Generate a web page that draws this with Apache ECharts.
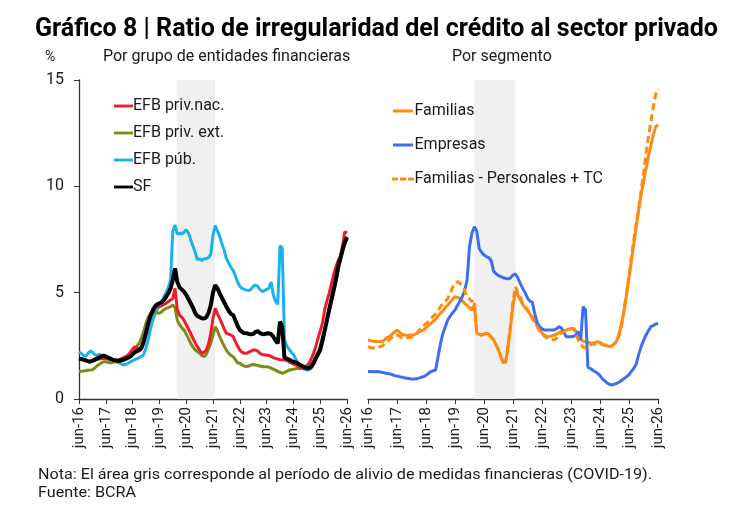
<!DOCTYPE html>
<html>
<head>
<meta charset="utf-8">
<script src="https://cdn.jsdelivr.net/npm/echarts@6/dist/echarts.min.js"></script>
<style>
  html, body { margin: 0; padding: 0; background: #fff; }
  #chart { width: 730px; height: 518px; }
</style>
</head>
<body>
<div id="chart"></div>
<script>
// monthly data, jun-16 .. jun-26 (index 0..120)
var mesesNombres = ['ene','feb','mar','abr','may','jun','jul','ago','sep','oct','nov','dic'];

var efbPub = [
  2.2, 2.15, 2.05, 2.0, 2.15, 2.25, 2.2, 2.1, 2.05, 2.1, 2.05, 2.0,
  1.95, 1.9, 1.85, 1.8, 1.78, 1.75, 1.7, 1.65, 1.6, 1.62, 1.68, 1.75,
  1.8, 1.85, 1.9, 1.95, 2.0, 2.1, 2.4, 2.8, 3.3, 3.7, 4.0, 4.2,
  4.4, 4.6, 4.8, 5.0, 5.25, 5.6, 7.9, 8.18, 7.75, 7.8, 7.75, 7.85,
  7.95, 7.8, 7.5, 7.2, 6.9, 6.55, 6.6, 6.5, 6.6, 6.6, 6.65, 6.8,
  7.7, 8.15, 7.9, 7.65, 7.3, 7.0, 6.6, 6.4, 6.2, 6.05, 5.8, 5.5,
  5.3, 5.2, 5.15, 5.12, 5.1, 5.15, 5.3, 5.36, 5.3, 5.15, 5.05, 5.1,
  5.15, 5.2, 5.5, 4.9, 4.6, 4.45, 7.2, 7.1, 2.8, 2.5, 2.35, 2.2,
  2.1, 1.9, 1.7, 1.55, 1.45, 1.4, 1.36, 1.38, 1.45, 1.65, 1.9, 2.15,
  2.45, 2.8, 3.25, 3.7, 4.25, 4.75, 5.25, 5.75, 6.2, 6.65, 7.05, 7.4, 7.6
];

var efbPrivExt = [
  1.29, 1.3, 1.32, 1.33, 1.35, 1.36, 1.38, 1.45, 1.55, 1.62, 1.7, 1.75,
  1.75, 1.72, 1.7, 1.72, 1.75, 1.75, 1.78, 1.8, 1.83, 1.87, 1.91, 2.0,
  2.1, 2.3, 2.5, 2.62, 2.9, 3.2, 3.56, 3.85, 4.0, 4.1, 4.1, 4.05,
  4.03, 4.1, 4.2, 4.26, 4.3, 4.34, 4.42, 4.3, 3.71, 3.5, 3.35, 3.24,
  3.05, 2.85, 2.62, 2.45, 2.3, 2.23, 2.15, 2.05, 1.99, 2.1, 2.35, 2.62,
  3.0, 3.4, 3.2, 2.93, 2.7, 2.5, 2.3, 2.15, 2.05, 1.99, 1.85, 1.7,
  1.68, 1.6, 1.55, 1.52, 1.55, 1.6, 1.62, 1.6, 1.58, 1.55, 1.52, 1.52,
  1.52, 1.5, 1.45, 1.4, 1.36, 1.3, 1.25, 1.21, 1.25, 1.3, 1.36, 1.38,
  1.4, 1.42, 1.44, 1.44, 1.44, 1.44, 1.45, 1.5, 1.6, 1.8, 2.0, 2.2,
  2.45, 2.9, 3.3, 3.6, 4.1, 4.6, 5.0, 5.5, 6.0, 6.5, 6.95, 7.4, 7.65
];

var efbPrivNac = [
  1.9, 1.88, 1.85, 1.8, 1.77, 1.75, 1.78, 1.82, 1.85, 1.88, 1.9, 1.92,
  1.9, 1.88, 1.85, 1.83, 1.82, 1.83, 1.85, 1.9, 1.95, 2.0, 2.07, 2.2,
  2.35, 2.46, 2.4, 2.38, 2.45, 2.8, 3.2, 3.64, 4.0, 4.2, 4.34, 4.35,
  4.34, 4.38, 4.45, 4.5, 4.58, 4.65, 4.73, 5.2, 4.2, 3.95, 3.85, 3.71,
  3.5, 3.3, 3.09, 2.85, 2.65, 2.46, 2.3, 2.15, 2.2, 2.3, 2.6, 3.09,
  3.79, 4.26, 4.0, 3.79, 3.55, 3.3, 3.09, 3.05, 3.0, 2.95, 2.7, 2.5,
  2.3, 2.2, 2.15, 2.15, 2.2, 2.25, 2.3, 2.3, 2.25, 2.15, 2.1, 2.07,
  2.07, 2.05, 2.0, 1.95, 1.91, 1.88, 1.85, 1.84, 1.83, 1.82, 1.75, 1.7,
  1.65, 1.6, 1.55, 1.5, 1.44, 1.45, 1.55, 1.68, 1.9, 2.15, 2.46, 2.85,
  3.2, 3.56, 4.2, 4.6, 4.97, 5.4, 5.83, 6.2, 6.5, 6.69, 7.2, 7.87, 7.8
];

var sf = [
  1.9, 1.88, 1.85, 1.82, 1.78, 1.75, 1.8, 1.85, 1.9, 1.95, 2.0, 2.04,
  2.0, 1.95, 1.9, 1.85, 1.82, 1.8, 1.8, 1.82, 1.85, 1.9, 1.95, 2.0,
  2.1, 2.2, 2.25, 2.3, 2.4, 2.7, 3.1, 3.55, 3.9, 4.15, 4.35, 4.45,
  4.5, 4.55, 4.65, 4.8, 4.97, 5.2, 5.6, 6.14, 5.5, 5.25, 5.15, 5.05,
  4.9, 4.7, 4.5, 4.3, 4.05, 3.9, 3.85, 3.8, 3.78, 3.85, 4.05, 4.4,
  5.0, 5.36, 5.2, 4.97, 4.75, 4.55, 4.34, 4.15, 4.0, 3.95, 3.7, 3.45,
  3.24, 3.15, 3.1, 3.09, 3.06, 3.05, 3.06, 3.15, 3.2, 3.1, 3.06, 3.05,
  3.08, 3.09, 3.05, 2.93, 2.75, 2.62, 3.64, 3.4, 1.95, 1.9, 1.85, 1.8,
  1.75, 1.72, 1.68, 1.6, 1.55, 1.5, 1.44, 1.45, 1.52, 1.68, 1.9, 2.1,
  2.3, 2.75, 3.2, 3.71, 4.2, 4.65, 5.12, 5.6, 6.22, 6.6, 7.0, 7.35, 7.6
];

var familias = [
  2.77, 2.75, 2.72, 2.7, 2.7, 2.7, 2.72, 2.8, 2.9, 2.95, 3.05, 3.15,
  3.24, 3.15, 3.05, 3.01, 3.0, 3.0, 3.01, 3.02, 3.08, 3.15, 3.2, 3.24,
  3.35, 3.45, 3.56, 3.65, 3.75, 3.9, 4.03, 4.15, 4.3, 4.42, 4.55, 4.7,
  4.81, 4.78, 4.73, 4.62, 4.5, 4.4, 4.3, 4.18, 4.42, 3.1, 3.05, 3.0,
  3.05, 3.09, 3.05, 2.9, 2.77, 2.55, 2.3, 2.0, 1.7, 1.75, 2.5, 3.4,
  4.4, 5.05, 4.9, 4.66, 4.45, 4.3, 4.18, 4.0, 3.85, 3.71, 3.45, 3.25,
  3.1, 3.0, 2.95, 2.93, 2.97, 3.01, 3.05, 3.12, 3.17, 3.2, 3.24, 3.28,
  3.3, 3.32, 3.2, 2.93, 2.8, 2.72, 2.7, 2.68, 2.64, 2.62, 2.66, 2.7,
  2.65, 2.58, 2.54, 2.5, 2.46, 2.5, 2.6, 2.75, 3.1, 3.6, 4.2, 4.95,
  5.7, 6.54, 7.3, 8.1, 8.9, 9.6, 10.2, 10.8, 11.4, 11.9, 12.4, 12.8, 12.9
];

var empresas = [
  1.29, 1.29, 1.28, 1.28, 1.29, 1.27, 1.25, 1.22, 1.2, 1.18, 1.15, 1.1,
  1.08, 1.05, 1.03, 1.0, 0.98, 0.96, 0.94, 0.94, 0.95, 0.98, 1.02, 1.05,
  1.12, 1.2, 1.29, 1.33, 1.36, 2.0, 2.6, 3.09, 3.4, 3.71, 3.9, 4.05,
  4.18, 4.4, 4.6, 4.81, 5.1, 5.6, 7.16, 7.8, 8.1, 7.9, 7.08, 6.9,
  6.77, 6.7, 6.65, 6.5, 6.0, 5.9, 5.8, 5.75, 5.7, 5.67, 5.65, 5.7,
  5.83, 5.88, 5.7, 5.44, 5.2, 5.0, 4.75, 4.6, 4.55, 4.0, 3.6, 3.4,
  3.3, 3.24, 3.24, 3.24, 3.24, 3.25, 3.3, 3.4, 3.35, 3.15, 2.93, 2.93,
  2.93, 2.95, 3.0, 3.17, 2.77, 4.34, 4.2, 1.5, 1.44, 1.35, 1.28, 1.21,
  1.1, 0.95, 0.85, 0.75, 0.68, 0.66, 0.7, 0.74, 0.8, 0.88, 0.96, 1.05,
  1.15, 1.3, 1.45, 1.65, 2.1, 2.45, 2.75, 3.0, 3.2, 3.4, 3.45, 3.52, 3.55
];

var familiasPersTC = [
  2.46, 2.42, 2.4, 2.38, 2.4, 2.46, 2.5, 2.6, 2.7, 2.8, 2.9, 3.0,
  3.01, 2.95, 2.88, 2.85, 2.87, 2.9, 2.92, 2.93, 3.05, 3.2, 3.35, 3.45,
  3.55, 3.65, 3.79, 3.9, 4.0, 4.15, 4.34, 4.5, 4.6, 4.73, 4.95, 5.25,
  5.44, 5.52, 5.45, 5.3, 5.1, 4.81, 4.7, 4.58, 4.66, 3.1, 3.05, 3.0,
  3.05, 3.09, 3.05, 2.9, 2.77, 2.55, 2.3, 2.0, 1.7, 1.75, 2.6, 3.5,
  4.6, 5.28, 5.0, 4.81, 4.5, 4.35, 4.18, 3.95, 3.8, 3.64, 3.4, 3.2,
  3.09, 2.95, 2.87, 2.85, 2.8, 2.77, 2.85, 3.0, 3.09, 3.15, 3.24, 3.28,
  3.3, 3.32, 3.1, 2.77, 2.55, 2.45, 2.38, 2.45, 2.54, 2.58, 2.6, 2.62,
  2.6, 2.55, 2.52, 2.5, 2.46, 2.5, 2.6, 2.72, 3.05, 3.48, 4.2, 4.97,
  5.8, 6.69, 7.5, 8.26, 8.9, 9.8, 10.6, 11.5, 12.3, 13.0, 13.7, 14.3, 14.6
];

var meses = [];
for (var i = 0; i < efbPub.length; i++) {
    var mIdx = (5 + i) % 12;
    var anio = 16 + Math.floor((5 + i) / 12);
    meses.push(mesesNombres[mIdx] + '-' + anio);
}
// periodo de alivio (area gris)
var alivioDesde = 'feb-20';
var alivioHasta = 'jul-21';

var fuente = 'Roboto';
var negro = '#1a1a1a';

var txtTitulo = 'Gráfico 8 | Ratio de irregularidad del crédito al sector privado';
var txtNota = 'Nota: El área gris corresponde al período de alivio de medidas financieras (COVID-19).';
var txtFuente = 'Fuente: BCRA';

// condensed look: squeeze Roboto to the width of the original text
function escala(texto, font, ancho) {
    var ctx = document.createElement('canvas').getContext('2d');
    ctx.font = font;
    return ancho / ctx.measureText(texto).width;
}
var fontTitulo = 'bold 26px Roboto';
var fontNota = '15px Roboto';
var sTitulo = escala(txtTitulo, fontTitulo, 683);
var sNota = escala(txtNota, fontNota, 614);

var iconoLinea = 'path://M0,0H20V3H0Z';
var iconoGuion = 'path://M0,0H6V3H0Z M8,0H14V3H8Z M16,0H22V3H16Z';

function xAxisDef(idx) {
    return {
        type: 'category',
        gridIndex: idx,
        data: meses,
        boundaryGap: false,
        axisLine: { lineStyle: { color: '#333', width: 1.3 } },
        axisTick: { interval: 11, length: 5, lineStyle: { color: '#333' } },
        axisLabel: {
            interval: 11, rotate: 90, margin: 8,
            fontFamily: fuente, fontSize: 15, color: negro
        },
        splitLine: { show: false }
    };
}

function yAxisDef(idx, visible) {
    return {
        type: 'value',
        gridIndex: idx,
        min: 0, max: 15, interval: 5,
        show: visible,
        axisLine: { show: true, lineStyle: { color: '#333', width: 1.3 } },
        axisTick: { show: true, length: 5, lineStyle: { color: '#333' } },
        axisLabel: { fontFamily: fuente, fontSize: 16, color: negro, margin: 15 },
        splitLine: { show: false }
    };
}

function serie(nombre, datos, color, ancho, xi, extra) {
    var s = {
        name: nombre,
        type: 'line',
        xAxisIndex: xi,
        yAxisIndex: xi,
        data: datos,
        symbol: 'none',
        lineStyle: { color: color, width: ancho },
        itemStyle: { color: color },
        animation: false
    };
    if (extra) {
        for (var k in extra) s[k] = extra[k];
    }
    return s;
}

var areaGris = {
    silent: true,
    itemStyle: { color: '#f0f0f0' },
    data: [[{ xAxis: alivioDesde }, { xAxis: alivioHasta }]]
};

var option = {
    backgroundColor: '#fff',
    animation: false,
    textStyle: { fontFamily: fuente },
    grid: [
        { left: 79, right: 383, top: 80, bottom: 119 },
        { left: 368, right: 72, top: 80, bottom: 119 }
    ],
    xAxis: [xAxisDef(0), xAxisDef(1)],
    yAxis: [yAxisDef(0, true), yAxisDef(1, false)],
    legend: [
        {
            data: [
                { name: 'EFB priv.nac.', icon: iconoLinea },
                { name: 'EFB priv. ext.', icon: iconoLinea },
                { name: 'EFB púb.', icon: iconoLinea },
                { name: 'SF', icon: iconoLinea }
            ],
            orient: 'vertical',
            left: 109, top: 93,
            itemWidth: 19, itemHeight: 3.5, itemGap: 11,
            textStyle: { fontFamily: fuente, fontSize: 16, color: negro, padding: [0, 0, 0, -5] }
        },
        {
            data: [
                { name: 'Familias', icon: iconoLinea },
                { name: 'Empresas', icon: iconoLinea },
                { name: 'Familias - Personales + TC', icon: iconoGuion }
            ],
            orient: 'vertical',
            left: 387, top: 98,
            itemWidth: 23, itemHeight: 3, itemGap: 18,
            textStyle: { fontFamily: fuente, fontSize: 16, color: negro, padding: [0, 0, 0, -5] }
        }
    ],
    graphic: [
        {
            type: 'text', x: 35, y: 16, scaleX: sTitulo,
            style: { text: txtTitulo, font: fontTitulo, fill: '#000' }
        },
        { type: 'text', x: 45, y: 50, style: { text: '%', font: '14px Roboto', fill: negro } },
        { type: 'text', x: 103, y: 49, style: { text: 'Por grupo de entidades financieras', font: '16px Roboto', fill: negro } },
        { type: 'text', x: 452, y: 49, style: { text: 'Por segmento', font: '16px Roboto', fill: negro } },
        {
            type: 'text', x: 38, y: 468, scaleX: sNota,
            style: { text: txtNota, font: fontNota, fill: negro }
        },
        { type: 'text', x: 38, y: 486, scaleX: sNota, style: { text: txtFuente, font: fontNota, fill: negro } }
    ],
    series: [
        serie('EFB púb.', efbPub, '#1ab2ec', 3, 0, { markArea: areaGris }),
        serie('EFB priv. ext.', efbPrivExt, '#7e8a14', 3, 0),
        serie('EFB priv.nac.', efbPrivNac, '#ee1c2a', 3, 0),
        serie('SF', sf, '#000000', 4, 0),
        serie('Familias', familias, '#ff8a10', 3, 1, { markArea: areaGris }),
        serie('Empresas', empresas, '#3c6ff0', 3, 1),
        serie('Familias - Personales + TC', familiasPersTC, '#ff8a10', 3, 1, { lineStyle: { color: '#ff8a10', width: 3, type: [7, 4] } })
    ]
};

var chart = echarts.init(document.getElementById('chart'));
chart.setOption(option);
</script>
</body>
</html>
